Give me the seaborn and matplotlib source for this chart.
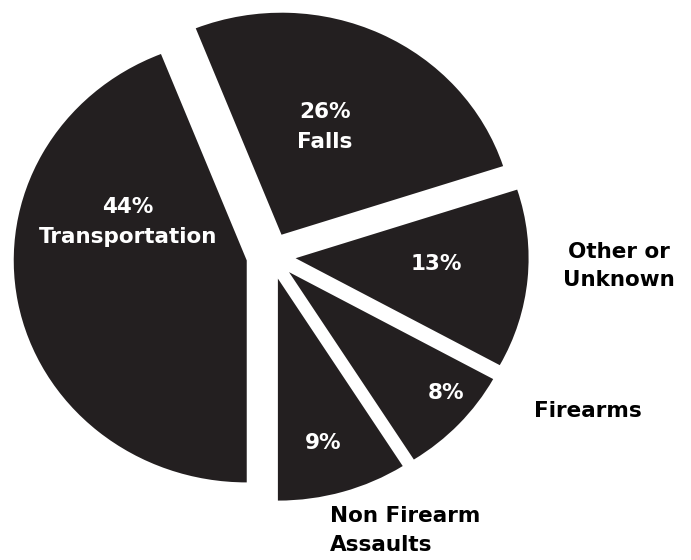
import matplotlib
matplotlib.use("Agg")
import matplotlib.pyplot as plt
import seaborn as sns

# data
categories = ["Transportation", "Falls", "Other or\nUnknown", "Firearms", "Non Firearm\nAssaults"]
percents = [44, 26, 13, 8, 9]

sns.set_style("white")
plt.rcParams['font.family'] = ['DejaVu Sans']

fill = '#231f20'

fig = plt.figure(figsize=(6.91, 5.60), dpi=100)
ax = fig.add_axes([0, 0, 1, 1])

wedges, _ = ax.pie(percents, startangle=-90, counterclock=False,
                   colors=[fill] * len(percents),
                   explode=[0.106] * len(percents),
                   wedgeprops=dict(linewidth=0))

# stretch slightly like the original (wider than tall)
ax.set_aspect('auto')
ax.set_xlim(-271 / 233, (691 - 271) / 233)
ax.set_ylim(-(560 - 256) / 222, 256 / 222)
ax.axis('off')

# label layout (inside: white, outside: black)
inside_pos = [(-0.614, 0.153), (0.232, 0.581), (0.708, -0.036), (0.751, -0.617), (0.223, -0.842)]
inside_txt = ["%d%%\n%s" % (percents[0], categories[0]),
              "%d%%\n%s" % (percents[1], categories[1]),
              "%d%%" % percents[2], "%d%%" % percents[3], "%d%%" % percents[4]]
for (x, y), t in zip(inside_pos, inside_txt):
    ax.text(x, y, t, color='white', fontsize=15.5, fontweight='bold',
            ha='center', va='center', linespacing=1.62)

outside = [(2, 1.494, -0.045, 'center'), (3, 1.36, -0.698, 'center'), (4, 0.253, -1.238, 'left')]
for i, x, y, ha in outside:
    ax.text(x, y, categories[i], color='black', fontsize=15.5, fontweight='bold',
            ha=ha, va='center', multialignment=ha, linespacing=1.55)

fig.savefig('out.png', dpi=100)
